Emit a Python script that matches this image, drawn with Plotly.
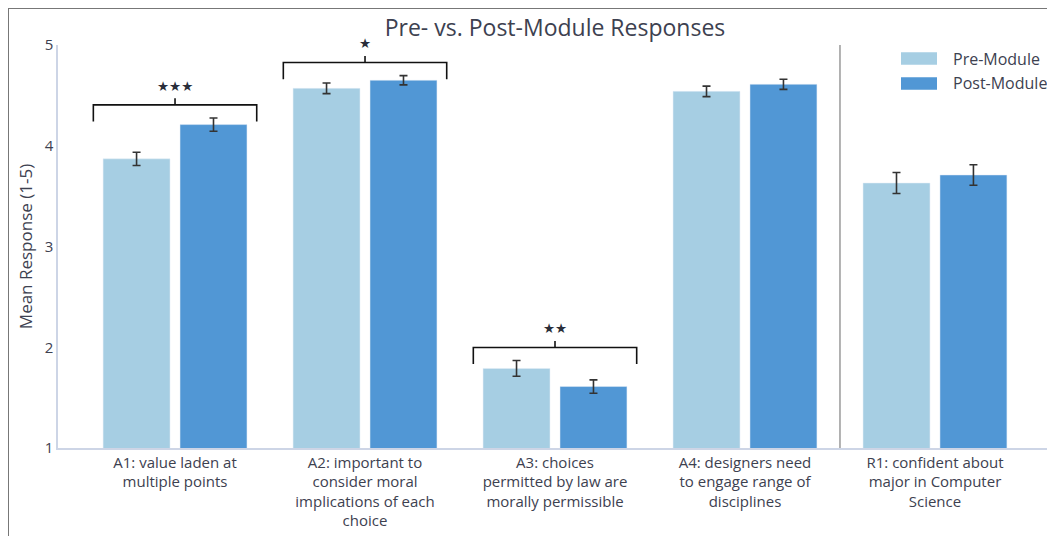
import plotly.graph_objects as go

categories = [
    "A1: value laden at<br>multiple points",
    "A2: important to<br>consider moral<br>implications of each<br>choice",
    "A3: choices<br>permitted by law are<br>morally permissible",
    "A4: designers need<br>to engage range of<br>disciplines",
    "R1: confident about<br>major in Computer<br>Science",
]
pre_values = [3.87, 4.57, 1.79, 4.54, 3.63]
pre_errors = [0.066, 0.053, 0.078, 0.052, 0.104]
post_values = [4.21, 4.65, 1.61, 4.61, 3.71]
post_errors = [0.066, 0.046, 0.066, 0.050, 0.102]
significance = ["***", "*", "**", "", ""]

PRE_COLOR = "#a6cee3"
POST_COLOR = "#5197d5"
FONT = "'Open Sans', 'Noto Sans', sans-serif"
TEXT = "#3d4150"

# figure geometry (page has an 8px body margin)
W, H = 1047, 528
ML, MR, MT, MB = 50, 3, 37, 88
PW, PH = W - ML - MR, H - MT - MB


def px(fx):
    return (fx - ML) / PW


def py(fy):
    return (H - MB - fy) / PH


x_idx = list(range(len(categories)))

fig = go.Figure()
fig.add_trace(go.Bar(
    x=x_idx, y=pre_values, name="Pre-Module", marker_color=PRE_COLOR,
    error_y=dict(type="data", array=pre_errors, color="#333333", thickness=1.6, width=4),
    showlegend=False,
))
fig.add_trace(go.Bar(
    x=x_idx, y=post_values, name="Post-Module", marker_color=POST_COLOR,
    error_y=dict(type="data", array=post_errors, color="#333333", thickness=1.6, width=4),
    showlegend=False,
))

shapes = []
annotations = []
Y0, Y1 = 1, 5

# significance brackets
for i, sig in enumerate(significance):
    if not sig:
        continue
    top = max(pre_values[i] + pre_errors[i], post_values[i] + post_errors[i]) + 0.13
    x0, x1 = i - 0.43, i + 0.43
    line = dict(color="#111111", width=1.6)
    shapes.append(dict(type="path", xref="x", yref="y",
                       path=f"M {x0} {top-0.165} L {x0} {top} L {x1} {top} L {x1} {top-0.165}",
                       line=line))
    shapes.append(dict(type="line", xref="x", yref="y", x0=i, x1=i, y0=top, y1=top + 0.065, line=line))
    annotations.append(dict(x=i, y=(top + 0.19 - Y0) / (Y1 - Y0), xref="x", yref="paper",
                            text="★" * len(sig), showarrow=False,
                            font=dict(family="DejaVu Sans", size=13.5, color="#2a2e3a"),
                            yanchor="middle"))

# divider between A-items and R1
shapes.append(dict(type="line", xref="x", yref="paper", x0=3.5, x1=3.5, y0=0, y1=1,
                   line=dict(color="#999999", width=1.5)))

# outer frame (top and left)
shapes.append(dict(type="line", xref="paper", yref="paper", x0=px(0), x1=px(W + 5), y0=py(0), y1=py(0),
                   line=dict(color="#777777", width=2)))
shapes.append(dict(type="line", xref="paper", yref="paper", x0=px(0), x1=px(0), y0=py(0), y1=py(H + 5),
                   line=dict(color="#777777", width=2)))

# legend (manual)
legend_items = [("Pre-Module", PRE_COLOR, 50.5), ("Post-Module", POST_COLOR, 75.5)]
for name, color, fy in legend_items:
    shapes.append(dict(type="rect", xref="paper", yref="paper",
                       x0=px(893), x1=px(929), y0=py(fy + 6.3), y1=py(fy - 6.3),
                       fillcolor=color, line=dict(width=0)))
    annotations.append(dict(x=px(943), y=py(fy), xref="paper", yref="paper", text=name,
                            showarrow=False, xanchor="left", yanchor="middle",
                            font=dict(family=FONT, size=16, color=TEXT)))

fig.update_layout(
    width=W, height=H,
    margin=dict(l=ML, r=MR, t=MT, b=MB),
    paper_bgcolor="white", plot_bgcolor="white",
    barmode="group", bargap=0.19, bargroupgap=0.13,
    title=dict(text="Pre- vs. Post-Module Responses", x=0.5, xref="paper", xanchor="center",
               y=1 - 20 / H, yanchor="middle",
               font=dict(family=FONT, size=23, color=TEXT)),
    font=dict(family=FONT, color=TEXT),
    shapes=shapes, annotations=annotations,
    showlegend=False,
)
fig.update_xaxes(
    tickmode="array", tickvals=x_idx, ticktext=categories,
    range=[-0.616, 4.616], showgrid=False, zeroline=False,
    showline=True, linecolor="#cdd5e6", linewidth=1.5,
    ticks="", tickfont=dict(family=FONT, size=15, color=TEXT),
)
fig.update_yaxes(
    range=[Y0, Y1], tickvals=[1, 2, 3, 4, 5], showgrid=False, zeroline=False,
    showline=True, linecolor="#cdd5e6", linewidth=1.5,
    ticks="", tickfont=dict(family=FONT, size=15, color=TEXT),
    title=dict(text="Mean Response (1-5)", font=dict(family=FONT, size=17, color=TEXT), standoff=8),
)

fig.write_html("out.html")
